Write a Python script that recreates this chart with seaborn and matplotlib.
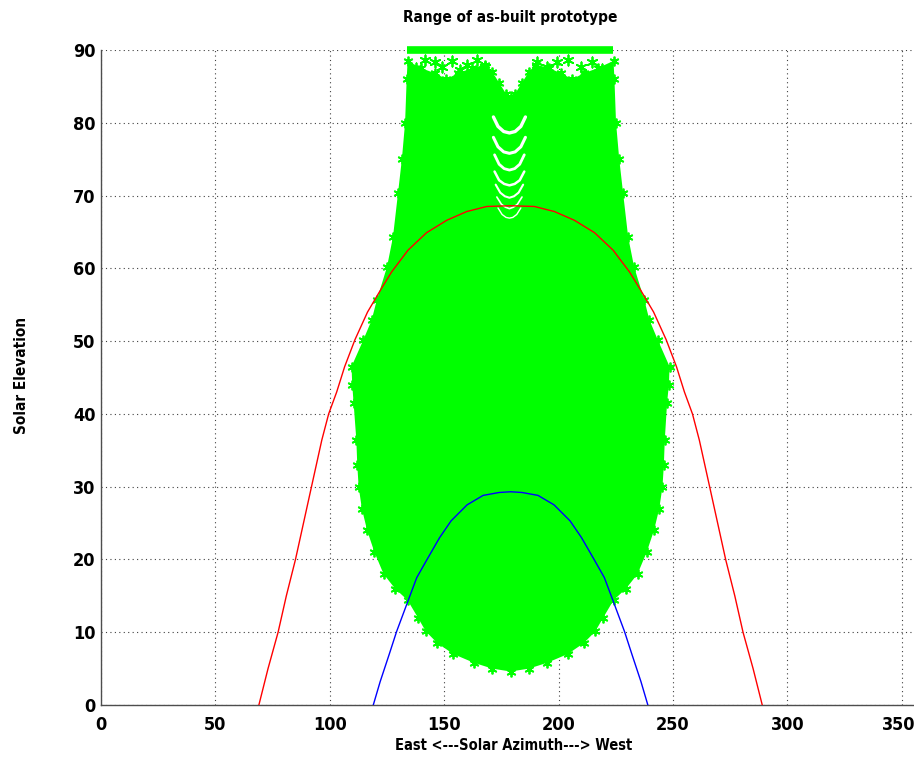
import matplotlib
matplotlib.use("Agg")
import matplotlib.pyplot as plt
import matplotlib.transforms as mtransforms
import seaborn as sns
import pandas as pd

# ---------------- data ----------------
title = "Range of as-built prototype"
x_label = "East <---Solar Azimuth---> West"
y_label = "Solar Elevation"
x_ticks = [0, 50, 100, 150, 200, 250, 300, 350]
y_ticks = [0, 10, 20, 30, 40, 50, 60, 70, 80, 90]

# summer sun path (red)
red_az = [69, 73, 77.4, 81, 85, 88.5, 92, 96.5, 99.5, 103, 106.5, 111, 116.5,
          122.7, 127, 134.2, 142.3, 151.1, 159.8, 168.6, 179, 189.4, 198.2,
          206.9, 215.7, 223.8, 231, 235.3, 241.5, 247, 251.5, 255, 258.5,
          261.5, 266, 269.5, 273, 277, 280.6, 285, 289]
red_el = [0, 5, 10, 15, 20, 25, 30, 36.4, 40, 43, 46.5, 50.2, 54,
          57.3, 59.5, 62.5, 64.9, 66.6, 67.8, 68.5, 68.6, 68.5, 67.8,
          66.6, 64.9, 62.5, 59.5, 57.3, 54, 50.2, 46.5, 43, 40,
          36.4, 30, 25, 20, 15, 10, 5, 0]

# winter sun path (blue)
blue_az = [119, 122, 126, 129.2, 134.3, 138, 142.5, 148, 153, 160, 167, 174,
           179, 184, 191, 198, 205, 210, 215.5, 220, 223.7, 228.8, 232, 236, 239]
blue_el = [0, 3.2, 7, 10.1, 14.4, 17.5, 20, 23, 25.3, 27.5, 28.8, 29.2,
           29.3, 29.2, 28.8, 27.5, 25.3, 23, 20, 17.5, 14.4, 10.1, 7, 3.2, 0]

# outline of the reachable range of the prototype (green)
green_az = [134, 133.6, 132.9, 131.5, 129.8, 127.6, 125, 120.5, 118.3, 114.7,
            109.5, 109.8, 110.4, 111.6, 112, 112.6, 114, 116.3, 119.5, 123.5,
            128.5, 134, 138.5, 142, 147, 154, 163, 171, 179,
            187, 195, 204, 211, 216, 219.5, 224, 229.5, 234.5, 238.5, 241.7,
            244, 245.4, 246, 246.4, 247.4, 248.2, 248.5, 243.3, 239.7, 237.5,
            233, 230.4, 228.2, 226.5, 225.1, 224.4, 224,
            217, 211, 206, 201, 196, 190, 187, 184, 181, 179, 177, 174,
            171, 168, 162, 156, 151, 146, 140]
green_el = [88.5, 86, 80, 75, 70.3, 64.3, 60.2, 55.6, 52.9, 50.2,
            46.5, 44, 41.5, 36.4, 33, 30, 27, 24, 21, 18,
            16, 14.4, 12, 10.1, 8.5, 7, 5.8, 5, 4.6,
            5, 5.8, 7, 8.5, 10.1, 12, 14.4, 16, 18, 21, 24,
            27, 30, 33, 36.4, 41.5, 44, 46.5, 50.2, 52.9, 55.6,
            60.2, 64.3, 70.3, 75, 80, 86, 88.5,
            87.5, 86.8, 86, 86.8, 87.5, 88, 87, 85.5, 84, 83.5, 84, 85.5,
            87, 88, 87.5, 86.8, 86, 86.8, 87.5]

# zenith band at 90 degrees
band_az = [133.6, 223.9]
band_el = [90, 90]

# scattered markers in the sparse zone just under the zenith band
sparse_az = [141.5, 146, 153.5, 160, 164.5, 137.5, 157, 168, 149,
             195, 199.5, 204, 210, 214.5, 219, 190.5]
sparse_el = [88.6, 88.3, 88.5, 88.0, 88.6, 87.5, 87.3, 87.6, 87.6,
             87.6, 88.4, 88.6, 87.6, 88.3, 87.4, 88.4]

# white gaps between rows of markers in the central column
gap_arcs_az = [
    [171.5, 173.5, 176, 178.5, 181, 183.5, 185.5],
    [171.5, 173.5, 176, 178.5, 181, 183.5, 185.5],
    [172, 174, 176.2, 178.5, 180.8, 183, 185],
    [172, 174, 176.2, 178.5, 180.8, 183, 185],
    [172.5, 174.5, 176.5, 178.5, 180.5, 182.5, 184.5],
    [173, 175, 176.8, 178.5, 180.2, 182, 184],
    [173.5, 175.3, 177, 178.5, 180, 181.7, 183.5],
]
gap_arcs_el = [
    [80.8, 79.5, 78.8, 78.6, 78.8, 79.5, 80.8],
    [78.0, 76.7, 76.0, 75.8, 76.0, 76.7, 78.0],
    [75.6, 74.3, 73.7, 73.5, 73.7, 74.3, 75.6],
    [73.3, 72.1, 71.6, 71.4, 71.6, 72.1, 73.3],
    [71.5, 70.4, 69.9, 69.7, 69.9, 70.4, 71.5],
    [69.8, 68.8, 68.4, 68.2, 68.4, 68.8, 69.8],
    [68.3, 67.4, 67.0, 66.9, 67.0, 67.4, 68.3],
]
gap_widths = [2.4, 2.2, 2.0, 1.8, 1.5, 1.2, 1.0]

# ---------------- drawing ----------------
sns.set_theme(style="white")
plt.rcParams["font.family"] = ["DejaVu Sans"]
plt.rcParams["font.stretch"] = "condensed"
plt.rcParams["font.weight"] = "bold"
plt.rcParams["text.color"] = "black"
plt.rcParams["axes.labelcolor"] = "black"

fig = plt.figure(figsize=(9.14, 7.63), dpi=100)
W, H = 914, 763
ax = fig.add_axes([101 / W, 58 / H, 823.7 / W, 655 / H])

GREEN = "#00ff00"
ASTERISK = (6, 2, 0)
ax.fill(green_az, green_el, color=GREEN, lw=0, zorder=2)
ax.plot(green_az, green_el, color=GREEN, lw=0, marker=ASTERISK, ms=7,
        mew=1.3, zorder=2)
ax.plot(band_az, band_el, color=GREEN, lw=5.5, solid_capstyle="butt",
        clip_on=False, zorder=2)
sparse_df = pd.DataFrame({"az": sparse_az, "el": sparse_el})
sns.scatterplot(data=sparse_df, x="az", y="el", marker=ASTERISK, s=55,
                color=GREEN, edgecolor=GREEN, linewidth=1.3, ax=ax, zorder=2)
for gx, gy, gw in zip(gap_arcs_az, gap_arcs_el, gap_widths):
    ax.plot(gx, gy, color="white", lw=gw, zorder=2.5,
            solid_capstyle="round", solid_joinstyle="round")

red_df = pd.DataFrame({"az": red_az, "el": red_el})
blue_df = pd.DataFrame({"az": blue_az, "el": blue_el})
sns.lineplot(data=red_df, x="az", y="el", sort=False, estimator=None,
             color="#ff0000", lw=1.0, ax=ax, zorder=3)
sns.lineplot(data=blue_df, x="az", y="el", sort=False, estimator=None,
             color="#0000ff", lw=1.0, ax=ax, zorder=3)

ax.set_xlim(0, 360)
ax.set_ylim(0, 90)
ax.set_xticks(x_ticks)
ax.set_yticks(y_ticks)
ax.set_xticklabels([str(v) for v in x_ticks])
ax.set_yticklabels([str(v) for v in y_ticks])

ax.grid(True, linestyle=(0, (1, 3)), color="0.25", lw=0.8, zorder=0)
ax.set_axisbelow(True)
for s in ["top", "right"]:
    ax.spines[s].set_visible(False)
for s in ["left", "bottom"]:
    ax.spines[s].set_color("0.3")
    ax.spines[s].set_linewidth(1.0)

ax.tick_params(axis="both", direction="in", length=6, width=1, color="0.3",
               labelsize=13, labelcolor="black")
ax.tick_params(axis="x", pad=8)
ax.tick_params(axis="y", pad=4)
for lab in ax.get_xticklabels() + ax.get_yticklabels():
    lab.set_fontweight("bold")
    lab.set_fontstretch("condensed")
# keep the last azimuth label inside the picture
last = ax.get_xticklabels()[-1]
last.set_transform(last.get_transform() +
                   mtransforms.ScaledTranslation(-3 / 100, 0, fig.dpi_scale_trans))

ax.set_title(title, fontsize=11, fontweight="bold", pad=20,
             x=(510 - 101) / 823.7, color="black")
ax.set_xlabel(x_label, fontsize=10.5, fontweight="bold")
ax.set_ylabel(y_label, fontsize=11, fontweight="bold")
ax.xaxis.set_label_coords((514 - 101) / 823.7, (705 - 738) / 655)
ax.yaxis.set_label_coords((29 - 101) / 823.7, (705 - 375) / 655)

fig.savefig("out.png", dpi=100)
